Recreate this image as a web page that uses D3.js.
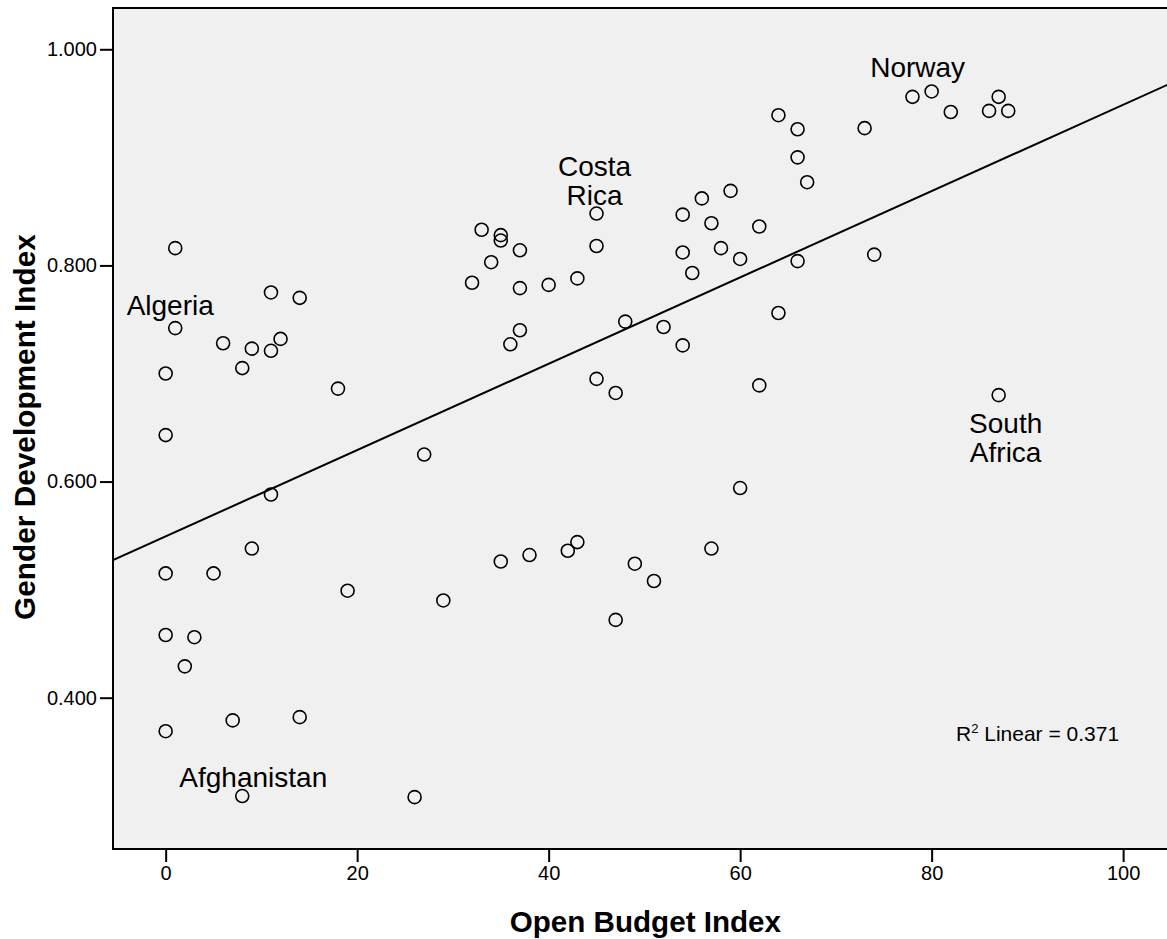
<!DOCTYPE html>
<html>
<head>
<meta charset="utf-8">
<script src="https://cdn.jsdelivr.net/npm/d3@7/dist/d3.min.js"></script>
<style>
  html, body { margin: 0; padding: 0; background: #ffffff; }
  svg { display: block; font-family: "Liberation Sans", Arial, sans-serif; }
</style>
</head>
<body>
<svg id="chart" width="1167" height="939"></svg>
<script>
// ---------- data ----------
const openBudget = [
  1, 11, 14, 1, 6, 9, 12, 11, 8, 0,
  18, 0, 11, 9, 0, 5, 19, 0, 3, 2,
  0, 7, 14, 8, 26, 27, 29, 33, 35, 35,
  37, 34, 32, 37, 40, 43, 45, 45, 37, 36,
  48, 52, 54, 45, 47, 54, 56, 59, 57, 62,
  54, 58, 60, 55, 64, 60, 35, 38, 42, 43,
  49, 51, 47, 57, 64, 66, 73, 66, 67, 78,
  80, 82, 86, 87, 88, 66, 74, 62, 87
];
const genderDev = [
  0.816, 0.775, 0.770, 0.742, 0.728, 0.723, 0.732, 0.721, 0.705, 0.700,
  0.686, 0.643, 0.588, 0.538, 0.515, 0.515, 0.499, 0.458, 0.456, 0.429,
  0.369, 0.379, 0.382, 0.309, 0.308, 0.625, 0.490, 0.833, 0.828, 0.823,
  0.814, 0.803, 0.784, 0.779, 0.782, 0.788, 0.848, 0.818, 0.740, 0.727,
  0.748, 0.743, 0.726, 0.695, 0.682, 0.847, 0.862, 0.869, 0.839, 0.836,
  0.812, 0.816, 0.806, 0.793, 0.756, 0.594, 0.526, 0.532, 0.536, 0.544,
  0.524, 0.508, 0.472, 0.538, 0.939, 0.926, 0.927, 0.900, 0.877, 0.956,
  0.961, 0.942, 0.943, 0.956, 0.943, 0.804, 0.810, 0.689, 0.680
];
const xTicks = [0, 20, 40, 60, 80, 100];
const yTicks = [0.4, 0.6, 0.8, 1.0];
const labelNames = ["Norway", "Costa\nRica", "Algeria", "Afghanistan", "South\nAfrica"];
const labelIndex = [70, 36, 3, 23, 78];  // index of labelled point in the arrays above
const xTitle = "Open Budget Index";
const yTitle = "Gender Development Index";
const r2Text = "0.371";

// ---------- layout ----------
const svg = d3.select("#chart");
const plot = { left: 113, top: 8, right: 1171, bottom: 849 };

const x = d3.scaleLinear().domain([-5.5, 105]).range([plot.left, plot.right]);
const y = d3.scaleLinear().domain([0.26, 1.0382]).range([plot.bottom, plot.top]);

// label offsets (pixels, relative to the labelled point): [dx, dy of first baseline]
const labelOffsets = [[-14, -14], [-2, -38], [-5, -13], [11, -9], [7, 38]];

// plot background
svg.append("rect")
  .attr("x", plot.left).attr("y", plot.top)
  .attr("width", 1200 - plot.left).attr("height", plot.bottom - plot.top)
  .attr("fill", "#f0f0f0")
  .attr("stroke", "#000").attr("stroke-width", 2);

svg.append("clipPath").attr("id", "clip")
  .append("rect")
  .attr("x", plot.left).attr("y", plot.top)
  .attr("width", 1200 - plot.left).attr("height", plot.bottom - plot.top);

// ---------- axes ----------
const xAxis = svg.append("g")
  .attr("transform", `translate(0,${plot.bottom})`)
  .call(d3.axisBottom(x).tickValues(xTicks).tickSize(13).tickPadding(4).tickFormat(d3.format("d")));
xAxis.select(".domain").remove();
xAxis.selectAll(".tick line").attr("stroke", "#000").attr("stroke-width", 2);
xAxis.selectAll(".tick text").attr("font-size", 20).attr("fill", "#000")
  .attr("font-family", "'Liberation Sans', Arial, sans-serif");

const yAxis = svg.append("g")
  .attr("transform", `translate(${plot.left},0)`)
  .call(d3.axisLeft(y).tickValues(yTicks).tickSize(13).tickPadding(3).tickFormat(d3.format(".3f")));
yAxis.select(".domain").remove();
yAxis.selectAll(".tick line").attr("stroke", "#000").attr("stroke-width", 2);
yAxis.selectAll(".tick text").attr("font-size", 20).attr("fill", "#000")
  .attr("font-family", "'Liberation Sans', Arial, sans-serif");

// axis titles
svg.append("text")
  .attr("x", (x(0) + x(100)) / 2 + 1).attr("y", 932)
  .attr("text-anchor", "middle")
  .attr("font-size", 29.6).attr("font-weight", "bold")
  .text(xTitle);

svg.append("text")
  .attr("transform", `translate(35,${427}) rotate(-90)`)
  .attr("text-anchor", "middle")
  .attr("font-size", 29.8).attr("font-weight", "bold")
  .text(yTitle);

// ---------- regression line (least squares of the data) ----------
const n = openBudget.length;
const mx = d3.mean(openBudget), my = d3.mean(genderDev);
let sxy = 0, sxx = 0;
for (let i = 0; i < n; i++) {
  sxy += (openBudget[i] - mx) * (genderDev[i] - my);
  sxx += (openBudget[i] - mx) ** 2;
}
const slope = sxy / sxx, intercept = my - slope * mx;
const xd = x.domain();
svg.append("line")
  .attr("clip-path", "url(#clip)")
  .attr("x1", x(xd[0])).attr("y1", y(intercept + slope * xd[0]))
  .attr("x2", x(xd[1])).attr("y2", y(intercept + slope * xd[1]))
  .attr("stroke", "#000").attr("stroke-width", 2);

// ---------- points ----------
const pts = openBudget.map((v, i) => ({ x: v, y: genderDev[i] }));
svg.append("g").selectAll("circle")
  .data(pts).join("circle")
  .attr("cx", d => x(d.x)).attr("cy", d => y(d.y))
  .attr("r", 6.5)
  .attr("fill", "none").attr("stroke", "#000").attr("stroke-width", 1.6);

// ---------- point labels ----------
labelNames.forEach((name, k) => {
  const p = pts[labelIndex[k]];
  const [dx, dy] = labelOffsets[k];
  const t = svg.append("text")
    .attr("text-anchor", "middle")
    .attr("font-size", 28)
    .attr("fill", "#000");
  name.split("\n").forEach((line, j) => {
    t.append("tspan")
      .attr("x", x(p.x) + dx)
      .attr("y", y(p.y) + dy + j * 29)
      .text(line);
  });
});

// R squared annotation
const r2 = svg.append("text")
  .attr("x", 956).attr("y", 741)
  .attr("font-size", 21).attr("fill", "#000");
r2.append("tspan").text("R");
r2.append("tspan").attr("font-size", 13).attr("dy", -8).text("2");
r2.append("tspan").attr("dy", 8).text(" Linear = " + r2Text);
</script>
</body>
</html>
